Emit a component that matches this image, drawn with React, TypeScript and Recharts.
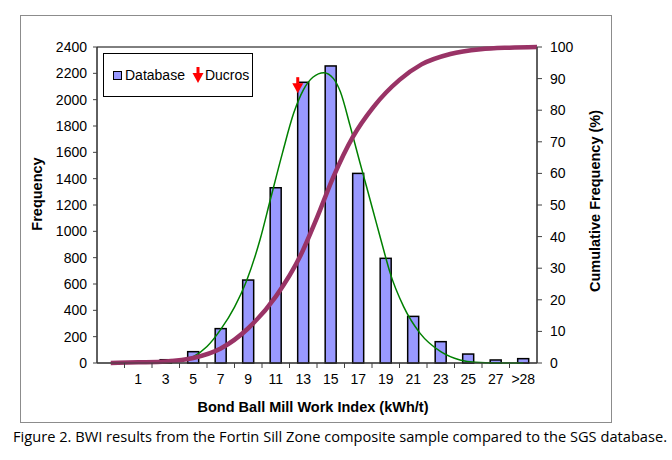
import React from "react"
import {
  Bar,
  ComposedChart,
  Legend,
  Line,
  ReferenceArea,
  Scatter,
  XAxis,
  YAxis,
} from "recharts"

// histogram bins (Bond ball mill work index, kWh/t)
const binLabels = ["", "1", "3", "5", "7", "9", "11", "13", "15", "17", "19", "21", "23", "25", "27", ">28"]
const binCenters = [-1, 1, 3, 5, 7, 9, 11, 13, 15, 17, 19, 21, 23, 25, 27, 29]
const frequency = [0, 0, 25, 86, 261, 630, 1331, 2132, 2256, 1440, 795, 354, 162, 68, 23, 33]

// fitted normal curve
const fitWi = [-1, 3, 4, 5, 6, 7, 8, 8.9, 9.85, 10.6, 11.5, 12.3, 13, 13.7, 14.5, 15.2, 15.7, 16.4, 17.1, 17.6, 18.3, 19, 19.3, 20.3, 21.5, 23, 24.4, 25.5, 27, 29]
const fitFreq = [0, 0, 15, 48, 125, 255, 425, 630, 934, 1238, 1600, 1896, 2073, 2170, 2205, 2160, 2060, 1805, 1530, 1340, 1070, 800, 690, 428, 225, 86, 23, 5, 0, 0]

// cumulative frequency (%)
const cumWi = [-1, 1, 3, 5, 7, 9, 11, 12.8, 14, 15.2, 16.6, 18.1, 20, 21.6, 23.7, 25.9, 28, 30]
const cumPct = [0, 0.2, 0.5, 1.6, 4.6, 11, 21, 34, 46, 59, 71.5, 81, 89.6, 94.5, 97.8, 99.3, 99.8, 100]

const ducrosWi = [12.6]
const ducrosFreq = [2110]

const freqTicks = [0, 200, 400, 600, 800, 1000, 1200, 1400, 1600, 1800, 2000, 2200, 2400]
const pctTicks = [0, 10, 20, 30, 40, 50, 60, 70, 80, 90, 100]
const binEdges = [0, 2, 4, 6, 8, 10, 12, 14, 16, 18, 20, 22, 24, 26, 28]

const bins = binCenters.map((wi, i) => ({ wi, freq: frequency[i] }))
const fitRows = fitWi.map((wi, i) => ({ wi, freq: fitFreq[i] }))
const cumRows = cumWi.map((wi, i) => ({ wi, pct: cumPct[i] }))
const ducrosRows = ducrosWi.map((wi, i) => ({ wi, freq: ducrosFreq[i] }))
const xTicks = [...binCenters, ...binEdges].sort((a, b) => a - b)

const font = "'Liberation Sans', Arial, sans-serif"
const tickStyle = { fill: "#000", fontSize: 14, fontFamily: font }
const barWidth = 11

function DownArrow({ cx, cy }: { cx: number; cy: number }) {
  return (
    <g>
      <rect x={cx - 1.5} y={cy - 8} width={3} height={7} fill="#ff0000" />
      <polygon
        points={`${cx - 5.5},${cy - 2} ${cx + 5.5},${cy - 2} ${cx},${cy + 8}`}
        fill="#ff0000"
      />
    </g>
  )
}

// bars on a numeric axis come out too thin, so draw them centred at a fixed width
function BinBar(props: any) {
  const { x, y, width, height } = props
  if (!height || height <= 0) return null
  const cx = x + width / 2
  return (
    <rect
      x={cx - barWidth / 2}
      y={y}
      width={barWidth}
      height={height}
      fill="#9999ff"
      stroke="#000"
      strokeWidth={1.5}
    />
  )
}

function BinTick(props: any) {
  const { x, y, payload } = props
  const idx = binCenters.indexOf(payload.value)
  if (idx === -1) {
    return <line x1={x} x2={x} y1={y - 10} y2={y - 5} stroke="#404040" />
  }
  return (
    <text x={x} y={y} dy="0.78em" textAnchor="middle" {...tickStyle}>
      {binLabels[idx]}
    </text>
  )
}

function LegendBox(props: any) {
  const items = (props.payload || []).filter((p: any) => p.type !== "none")
  return (
    <div
      style={{
        width: 150,
        height: 44,
        boxSizing: "border-box",
        border: "1.5px solid #000",
        background: "#fff",
        display: "flex",
        alignItems: "center",
        paddingLeft: 9,
        fontFamily: font,
        fontSize: 14,
        color: "#000",
      }}
    >
      {items.map((entry: any) =>
        entry.value === "Database" ? (
          <span key="db" style={{ display: "flex", alignItems: "center", marginRight: 7 }}>
            <span
              style={{
                width: 9,
                height: 9,
                boxSizing: "border-box",
                border: "1.5px solid #000",
                background: "#9999ff",
                marginRight: 3,
              }}
            />
            {entry.value}
          </span>
        ) : (
          <span key="du" style={{ display: "flex", alignItems: "center" }}>
            <svg width={12} height={18} style={{ marginRight: 1 }}>
              <DownArrow cx={6} cy={9} />
            </svg>
            {entry.value}
          </span>
        )
      )}
    </div>
  )
}

export default function App() {
  return (
    <div style={{ position: "relative", width: 672, height: 460, background: "#fff" }}>
      <style>{"body{margin:0}"}</style>
      <div
        style={{
          position: "absolute",
          left: 20,
          top: 15,
          width: 592,
          height: 408,
          boxSizing: "border-box",
          border: "1px solid #8c8c8c",
        }}
      />
      <div style={{ position: "absolute", left: 0, top: 0 }}>
        <ComposedChart
          width={672}
          height={460}
          data={bins}
          margin={{ top: 47, right: 75, bottom: 67, left: 37 }}
        >
          <XAxis
            xAxisId="wi"
            dataKey="wi"
            type="number"
            domain={[-2, 30]}
            allowDataOverflow
            ticks={xTicks}
            interval={0}
            tick={<BinTick />}
            tickLine={false}
            tickSize={5}
            tickMargin={5}
            height={30}
            axisLine={{ stroke: "#404040" }}
          />
          <YAxis
            yAxisId="freq"
            domain={[0, 2400]}
            ticks={freqTicks}
            interval={0}
            width={60}
            tick={tickStyle}
            tickSize={4}
            tickMargin={6}
            axisLine={{ stroke: "#404040" }}
            tickLine={{ stroke: "#404040" }}
          />
          <YAxis
            yAxisId="pct"
            orientation="right"
            domain={[0, 100]}
            ticks={pctTicks}
            interval={0}
            width={60}
            tick={tickStyle}
            tickSize={5}
            tickMargin={8}
            axisLine={{ stroke: "#404040" }}
            tickLine={{ stroke: "#404040" }}
          />
          <ReferenceArea
            xAxisId="wi"
            yAxisId="freq"
            x1={-2}
            x2={30}
            y1={0}
            y2={2400}
            fill="none"
            stroke="#000"
            strokeWidth={1}
          />
          <Bar
            xAxisId="wi"
            yAxisId="freq"
            dataKey="freq"
            name="Database"
            fill="#9999ff"
            stroke="#000"
            strokeWidth={1.5}
            barSize={barWidth}
            shape={<BinBar />}
            isAnimationActive={false}
          />
          <Line
            xAxisId="wi"
            yAxisId="freq"
            data={fitRows}
            dataKey="freq"
            type="monotone"
            stroke="#008000"
            strokeWidth={1.5}
            dot={false}
            legendType="none"
            isAnimationActive={false}
          />
          <Line
            xAxisId="wi"
            yAxisId="pct"
            data={cumRows}
            dataKey="pct"
            type="monotone"
            stroke="#993366"
            strokeWidth={4.5}
            dot={false}
            legendType="none"
            isAnimationActive={false}
          />
          <Scatter
            xAxisId="wi"
            yAxisId="freq"
            data={ducrosRows}
            dataKey="freq"
            name="Ducros"
            fill="#ff0000"
            shape={(p: any) => <DownArrow cx={p.cx} cy={p.cy} />}
            isAnimationActive={false}
          />
          <Legend
            layout="horizontal"
            verticalAlign="middle"
            align="center"
            content={<LegendBox />}
            wrapperStyle={{ left: 103, top: 53, width: 150, height: 44 }}
          />
        </ComposedChart>
      </div>
      <svg
        width={672}
        height={460}
        style={{ position: "absolute", left: 0, top: 0, pointerEvents: "none" }}
      >
        <text
          transform="translate(42,194) rotate(-90)"
          textAnchor="middle"
          fontFamily={font}
          fontSize={14.5}
          fontWeight="bold"
        >
          Frequency
        </text>
        <text
          transform="translate(600,201) rotate(-90)"
          textAnchor="middle"
          fontFamily={font}
          fontSize={14.5}
          fontWeight="bold"
        >
          Cumulative Frequency (%)
        </text>
        <text x={313} y={412} textAnchor="middle" fontFamily={font} fontSize={14.5} fontWeight="bold">
          Bond Ball Mill Work Index (kWh/t)
        </text>
        <text
          x={13}
          y={442}
          textLength={654}
          lengthAdjust="spacingAndGlyphs"
          fontFamily="'Open Sans', sans-serif"
          fontSize={14}
        >
          Figure 2. BWI results from the Fortin Sill Zone composite sample compared to the SGS database.
        </text>
      </svg>
    </div>
  )
}
